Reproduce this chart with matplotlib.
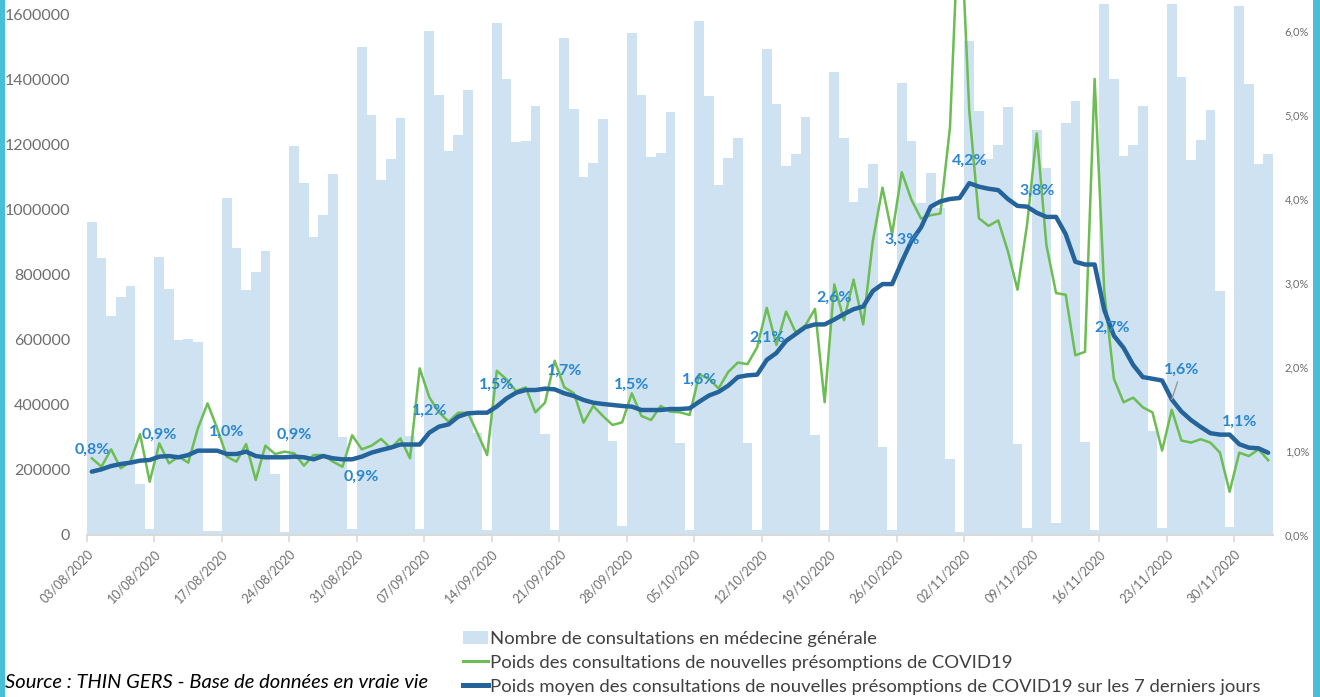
import matplotlib

matplotlib.use("Agg")
import matplotlib.pyplot as plt  # noqa: E402
import numpy as np  # noqa: E402
import pandas as pd  # noqa: E402
from matplotlib.patches import Rectangle  # noqa: E402

# daily GP consultations, 03/08/2020 -> 03/12/2020 (one value per day)
consultations = [
    963000, 852000, 674000, 732000, 766000, 157000, 18000,
    855000, 757000, 600000, 604000, 594000, 12000, 12000,
    1037000, 884000, 754000, 810000, 875000, 187000, 9000,
    1198000, 1083000, 917000, 985000, 1112000, 300000, 18000,
    1502000, 1292000, 1092000, 1157000, 1283000, 305000, 18000,
    1551000, 1354000, 1182000, 1231000, 1369000, 314000, 15000,
    1575000, 1403000, 1209000, 1213000, 1319000, 311000, 15000,
    1529000, 1311000, 1101000, 1145000, 1280000, 289000, 28000,
    1545000, 1355000, 1164000, 1176000, 1302000, 284000, 15000,
    1582000, 1350000, 1077000, 1161000, 1222000, 283000, 15000,
    1494000, 1326000, 1135000, 1171000, 1287000, 308000, 15000,
    1425000, 1222000, 1025000, 1068000, 1142000, 271000, 15000,
    1391000, 1211000, 1020000, 1115000, 1005000, 234000, 9000,
    1521000, 1305000, 1156000, 1200000, 1318000, 280000, 20000,
    1246000, 1129000, 36000, 1267000, 1335000, 287000, 15000,
    1634000, 1403000, 1166000, 1200000, 1320000, 320000, 22000,
    1634000, 1409000, 1154000, 1216000, 1308000, 750000, 25000,
    1628000, 1388000, 1142000, 1172000,
]

# daily share of new presumed COVID19 consultations (%)
share_daily = [
    0.913, 0.813, 1.020, 0.794, 0.873, 1.202, 0.635,
    1.091, 0.853, 0.933, 0.861, 1.270, 1.567, 1.270,
    0.933, 0.873, 1.083, 0.655, 1.063, 0.964, 0.992,
    0.972, 0.825, 0.952, 0.952, 0.873, 0.813, 1.187,
    1.020, 1.063, 1.143, 1.032, 1.150, 0.913, 1.984,
    1.640, 1.460, 1.350, 1.456, 1.456, 1.210, 0.952,
    1.956, 1.853, 1.714, 1.758, 1.460, 1.575, 2.075,
    1.758, 1.687, 1.337, 1.536, 1.417, 1.310, 1.341,
    1.687, 1.417, 1.369, 1.536, 1.468, 1.460, 1.429,
    1.910, 1.860, 1.745, 1.940, 2.053, 2.034, 2.235,
    2.705, 2.262, 2.659, 2.413, 2.495, 2.692, 1.581,
    2.983, 2.557, 3.040, 2.507, 3.500, 4.135, 3.581,
    4.319, 3.991, 3.766, 3.807, 3.827, 4.852, 7.600,
    5.050, 3.770, 3.680, 3.745, 3.380, 2.920, 3.700,
    4.780, 3.450, 2.880, 2.860, 2.140, 2.180, 5.430,
    2.900, 1.860, 1.580, 1.635, 1.520, 1.460, 1.005,
    1.490, 1.125, 1.100, 1.140, 1.100, 0.980, 0.515,
    0.980, 0.940, 1.020, 0.890,
]

# 7-day mean share (%)
share_7d = [
    0.754, 0.782, 0.821, 0.845, 0.861, 0.885, 0.893,
    0.933, 0.940, 0.925, 0.952, 1.004, 1.004, 1.004,
    0.964, 0.964, 0.992, 0.940, 0.925, 0.925, 0.925,
    0.933, 0.925, 0.901, 0.940, 0.913, 0.901, 0.901,
    0.933, 0.980, 1.012, 1.040, 1.077, 1.077, 1.077,
    1.218, 1.290, 1.317, 1.409, 1.448, 1.456, 1.456,
    1.530, 1.625, 1.694, 1.726, 1.726, 1.742, 1.734,
    1.687, 1.655, 1.607, 1.575, 1.560, 1.548, 1.536,
    1.528, 1.488, 1.488, 1.488, 1.500, 1.500, 1.508,
    1.587, 1.660, 1.704, 1.778, 1.880, 1.901, 1.909,
    2.085, 2.167, 2.311, 2.393, 2.475, 2.507, 2.507,
    2.565, 2.630, 2.688, 2.720, 2.905, 2.987, 2.987,
    3.253, 3.500, 3.663, 3.909, 3.971, 4.000, 4.012,
    4.188, 4.147, 4.122, 4.106, 4.000, 3.918, 3.909,
    3.836, 3.787, 3.787, 3.581, 3.253, 3.220, 3.220,
    2.680, 2.372, 2.229, 2.024, 1.880, 1.860, 1.839,
    1.614, 1.470, 1.368, 1.286, 1.212, 1.195, 1.195,
    1.081, 1.040, 1.032, 0.979,
]

dates = pd.date_range("2020-08-03", periods=len(consultations), freq="D")
week_ticks = list(range(0, len(dates), 7))
week_labels = [d.strftime("%d/%m/%Y") for d in dates[week_ticks]]

left_ticks = list(range(0, 1600001, 200000))
right_ticks = [0, 1, 2, 3, 4, 5, 6]

legend_labels = [
    "Nombre de consultations en médecine générale",
    "Poids des consultations de nouvelles présomptions de COVID19",
    "Poids moyen des consultations de nouvelles présomptions de COVID19 sur les 7 derniers jours",
]
source_text = "Source : THIN GERS - Base de données en vraie vie"

BAR = "#CFE2F2"
GREEN = "#6CBD52"
NAVY = "#24649A"
LABEL_BLUE = "#2A86CF"
TICK_GREY = "#6E6E6E"
AXIS_GREY = "#D9D9D9"
FRAME = "#47BFD9"

plt.rcParams["font.family"] = ["Lato", "DejaVu Sans"]

W, H = 1320, 697
fig = plt.figure(figsize=(W / 100, H / 100), dpi=100)
fig.patch.set_facecolor("white")

x0, x1, y0, y1 = 87, 1273, 535, 0
ax = fig.add_axes([x0 / W, 1 - y0 / H, (x1 - x0) / W, (y0 - y1) / H])
ax2 = ax.twinx()

idx = np.arange(len(consultations))
ax.bar(idx, consultations, width=1.0, align="edge", color=BAR, linewidth=0)
ax.set_xlim(0, len(consultations))
ax.set_ylim(0, 1646000)
ax.set_yticks(left_ticks)
ax.set_yticklabels([str(v) for v in left_ticks])

ax2.plot(idx + 0.5, share_daily, color=GREEN, lw=1.8, zorder=3)
ax2.plot(idx + 0.5, share_7d, color=NAVY, lw=3.2, solid_capstyle="round",
         solid_joinstyle="round", zorder=4)
ax2.set_ylim(0, 535 / 84)
ax2.set_yticks(right_ticks)
ax2.set_yticklabels([f"{v},0%" for v in right_ticks])

ax.set_xticks(week_ticks)
ax.set_xticklabels(week_labels, rotation=45, ha="right", va="top",
                   rotation_mode="anchor")

for a in (ax, ax2):
    for side in ("top", "left", "right"):
        a.spines[side].set_visible(False)
    a.spines["bottom"].set_color(AXIS_GREY)
    a.spines["bottom"].set_linewidth(1.2)
ax.tick_params(axis="x", length=5, color=AXIS_GREY, width=1.2, pad=4,
               labelsize=9, labelcolor=TICK_GREY)
ax.tick_params(axis="y", length=0, pad=12, labelsize=11.5, labelcolor=TICK_GREY)
ax2.tick_params(axis="y", length=0, pad=8.5, labelsize=8, labelcolor=TICK_GREY)

# weekly data labels on the 7-day line
label_offsets = {28: (0, -20), 105: (8, -18), 112: (10, 30)}
for i in week_ticks:
    v = share_7d[i]
    dx, dy = label_offsets.get(i, (0, 22))
    txt = f"{v:.1f}%".replace(".", ",")
    arrow = None
    if i == 112:
        arrow = dict(arrowstyle="-", color="#9A9A9A", lw=1.0, shrinkA=2, shrinkB=0)
    ax2.annotate(txt, (i + 0.5, v), xytext=(dx * 0.72, dy * 0.72),
                 textcoords="offset points", ha="center", va="center",
                 color=LABEL_BLUE, fontsize=11.5, fontweight="bold",
                 arrowprops=arrow, zorder=5)

# legend
handles = [
    Rectangle((0, 0), 1, 1, facecolor=BAR, edgecolor="none"),
    plt.Line2D([], [], color=GREEN, lw=2.2),
    plt.Line2D([], [], color=NAVY, lw=3.6),
]
fig.legend(handles, legend_labels, loc="upper left",
           bbox_to_anchor=(463 / W, 1 - 631 / H), frameon=False,
           fontsize=13.3, labelcolor="#404040", handlelength=1.35,
           handletextpad=0.12, labelspacing=0.42, borderpad=0, borderaxespad=0)

fig.text(5 / W, 1 - 683 / H, source_text, fontsize=14.5, style="italic",
         color="black", ha="left", va="center")

# cyan frame strips at the edges
fig.add_artist(Rectangle((0, 0), 5 / W, 1, transform=fig.transFigure,
                         facecolor=FRAME, edgecolor="none"))
fig.add_artist(Rectangle((1313 / W, 0), 7 / W, 1, transform=fig.transFigure,
                         facecolor=FRAME, edgecolor="none"))

fig.savefig("out.png", dpi=100, facecolor="white")
